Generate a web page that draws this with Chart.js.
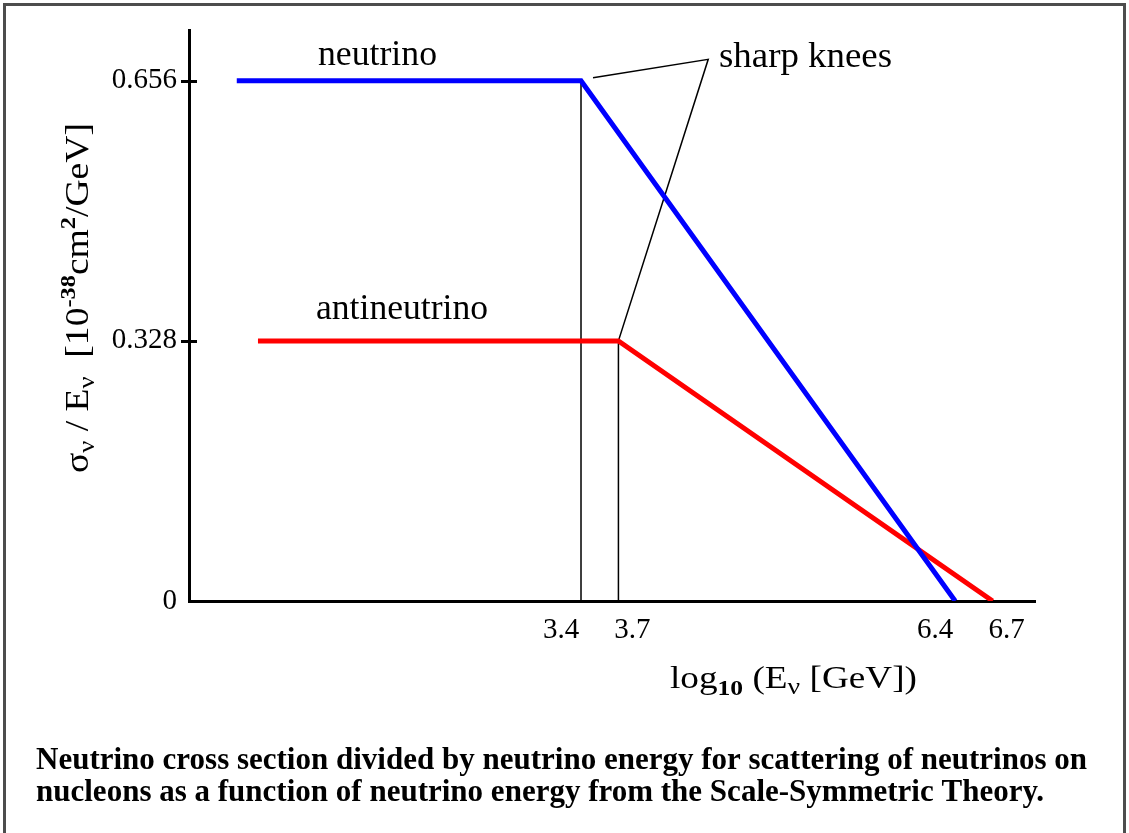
<!DOCTYPE html>
<html>
<head>
<meta charset="utf-8">
<script src="https://cdn.jsdelivr.net/npm/chart.js@4.4.1/dist/chart.umd.min.js"></script>
<style>
html, body { margin: 0; padding: 0; background: #fff; }
canvas { display: block; }
</style>
</head>
<body>
<canvas id="grafico" width="1129" height="833"></canvas>
<script>
// valores
var neutrinoX = [0.64, 3.4, 6.4];
var neutrinoY = [0.656, 0.656, 0];
var antiX = [0.81, 3.7, 6.7];
var antiY = [0.328, 0.328, 0];
var xTicks = [3.4, 3.7, 6.4, 6.7];
var yTicks = [0, 0.328, 0.656];
var caption = [
    "Neutrino cross section divided by neutrino energy for scattering of neutrinos on",
    "nucleons as a function of neutrino energy from the Scale-Symmetric Theory."
];

var SERIF = '"Liberation Serif", "Times New Roman", serif';

function puntos(xs, ys) {
    return xs.map(function (x, i) { return { x: x, y: ys[i] }; });
}

function anchoRico(ctx, segs) {
    var w = 0;
    segs.forEach(function (s) { ctx.font = s.f; w += ctx.measureText(s.t).width; });
    return w;
}

// texto con sub/superindices, estirado al ancho pedido
function textoRico(ctx, segs, x, y, ancho) {
    var k = ancho / anchoRico(ctx, segs);
    ctx.save();
    ctx.translate(x, y);
    ctx.scale(k, 1);
    ctx.textBaseline = 'alphabetic';
    ctx.textAlign = 'left';
    var cx = 0;
    segs.forEach(function (s) {
        ctx.font = s.f;
        ctx.fillText(s.t, cx, s.dy || 0);
        cx += ctx.measureText(s.t).width;
    });
    ctx.restore();
}

function textoAjustado(ctx, txt, font, x, y, ancho, alinear) {
    ctx.save();
    ctx.font = font;
    var k = ancho / ctx.measureText(txt).width;
    ctx.translate(alinear === 'right' ? x - ancho : x, y);
    ctx.scale(k, 1);
    ctx.textAlign = 'left';
    ctx.textBaseline = 'alphabetic';
    ctx.fillText(txt, 0, 0);
    ctx.restore();
}

var extras = {
    id: 'extras',
    beforeDatasetsDraw: function (chart) {
        var ctx = chart.ctx, xs = chart.scales.x, ys = chart.scales.y;
        var kn = { x: xs.getPixelForValue(neutrinoX[1]), y: ys.getPixelForValue(neutrinoY[1]) };
        var ka = { x: xs.getPixelForValue(antiX[1]), y: ys.getPixelForValue(antiY[1]) };
        var base = ys.getPixelForValue(0);
        var apex = { x: xs.getPixelForValue(4.42), y: ys.getPixelForValue(0.683) };
        ctx.save();
        ctx.strokeStyle = '#000';
        ctx.lineWidth = 1.5;
        ctx.beginPath();
        ctx.moveTo(kn.x, kn.y); ctx.lineTo(kn.x, base);
        ctx.moveTo(ka.x, ka.y); ctx.lineTo(ka.x, base);
        ctx.moveTo(kn.x + 12, kn.y - 3); ctx.lineTo(apex.x, apex.y);
        ctx.lineTo(ka.x, ka.y);
        ctx.stroke();
        ctx.restore();
    },
    afterDraw: function (chart) {
        var ctx = chart.ctx, xs = chart.scales.x, ys = chart.scales.y, left = chart.chartArea.left;
        ctx.save();
        ctx.fillStyle = '#000';
        ctx.strokeStyle = '#000';

        // marcas en el eje y
        ctx.lineWidth = 3;
        ctx.beginPath();
        yTicks.forEach(function (v) {
            if (v === 0) return;
            var py = Math.round(ys.getPixelForValue(v)) + 0.5;
            ctx.moveTo(left - 8, py); ctx.lineTo(left + 8, py);
        });
        ctx.stroke();

        // etiquetas del eje x, separadas un poco para que no se monten
        ctx.font = '29px ' + SERIF;
        ctx.textAlign = 'center';
        ctx.textBaseline = 'alphabetic';
        xTicks.forEach(function (v, i) {
            var dx = (i % 2 === 0) ? -20 : 14;
            ctx.fillText(String(v), xs.getPixelForValue(v) + dx, 638);
        });

        // etiquetas
        var f36 = '36px ' + SERIF;
        textoAjustado(ctx, 'neutrino', f36, 318, 65, 119);
        textoAjustado(ctx, 'sharp knees', f36, 719, 67, 173);
        textoAjustado(ctx, 'antineutrino', f36, 488, 319, 172, 'right');

        // titulo eje x
        var m = '32px ' + SERIF;
        textoRico(ctx, [
            { t: 'log', f: m },
            { t: '10', f: 'bold 22px ' + SERIF, dy: 7 },
            { t: ' (E', f: m },
            { t: 'ν', f: '24px ' + SERIF, dy: 6 },
            { t: ' [GeV])', f: m }
        ], 670, 688, 247);

        // titulo eje y
        var my = '34px ' + SERIF;
        ctx.save();
        ctx.translate(88, 473);
        ctx.rotate(-Math.PI / 2);
        textoRico(ctx, [
            { t: 'σ', f: my },
            { t: 'ν', f: '24px ' + SERIF, dy: 6 },
            { t: ' / E', f: my },
            { t: 'ν', f: '24px ' + SERIF, dy: 6 },
            { t: '  [10', f: my },
            { t: '-38', f: 'bold 22px ' + SERIF, dy: -13 },
            { t: 'cm', f: my },
            { t: '2', f: 'bold 22px ' + SERIF, dy: -13 },
            { t: '/GeV]', f: my }
        ], 0, 0, 350);
        ctx.restore();

        // pie de figura
        var fb = 'bold 32px ' + SERIF;
        textoAjustado(ctx, caption[0], fb, 36, 769, 1051);
        textoAjustado(ctx, caption[1], fb, 36, 801, 1008);

        // marco
        ctx.strokeStyle = '#4d4d4d';
        ctx.lineWidth = 3;
        ctx.strokeRect(4.5, 4.5, 1120, 900);
        ctx.restore();
    }
};

var ctx = document.getElementById('grafico').getContext('2d');
new Chart(ctx, {
    type: 'scatter',
    data: {
        datasets: [{
            label: 'neutrino',
            data: puntos(neutrinoX, neutrinoY),
            showLine: true,
            borderColor: '#0000ff',
            borderWidth: 5,
            pointRadius: 0,
            fill: false
        }, {
            label: 'antineutrino',
            data: puntos(antiX, antiY),
            showLine: true,
            borderColor: '#ff0000',
            borderWidth: 5,
            pointRadius: 0,
            fill: false
        }]
    },
    options: {
        responsive: false,
        animation: false,
        events: [],
        layout: { padding: { top: 30, right: 94, left: 0, bottom: 0 } },
        plugins: {
            legend: { display: false },
            tooltip: { enabled: false }
        },
        scales: {
            x: {
                type: 'linear',
                min: 0.257,
                max: 7.04,
                afterFit: function (s) { s.height = 232; },
                afterBuildTicks: function (s) { s.ticks = xTicks.map(function (v) { return { value: v }; }); },
                grid: { display: false, drawTicks: false },
                border: { display: true, color: '#000', width: 3 },
                ticks: { display: false }
            },
            y: {
                min: 0,
                max: 0.72,
                afterFit: function (s) { s.width = 189; },
                afterBuildTicks: function (s) { s.ticks = yTicks.map(function (v) { return { value: v }; }); },
                grid: { display: false, drawTicks: false },
                border: { display: true, color: '#000', width: 3 },
                ticks: {
                    padding: 12,
                    color: '#000',
                    font: { family: SERIF, size: 29 },
                    callback: function (v) { return String(v); }
                }
            }
        }
    },
    plugins: [extras]
});
</script>
</body>
</html>
